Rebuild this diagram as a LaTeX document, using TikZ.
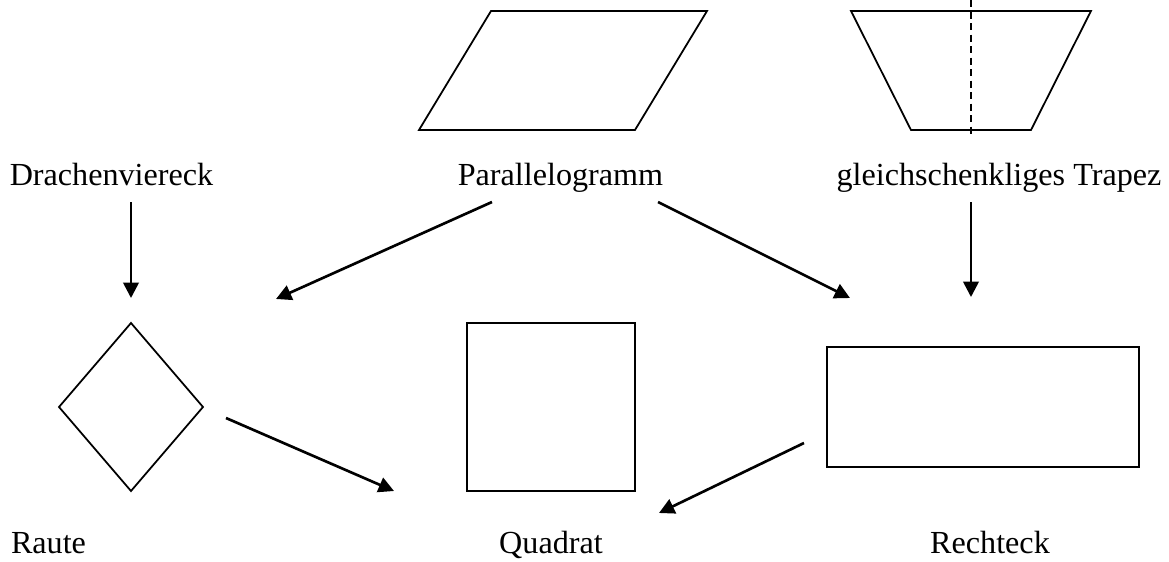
\documentclass[tikz,border=0pt]{standalone}
\usepackage{fontspec}
\setmainfont{Liberation Serif}
\usetikzlibrary{arrows.meta}
\begin{document}
\begin{tikzpicture}[x=0.339pt, y=-0.339pt, every node/.style={font=\fontsize{10.9pt}{13pt}\selectfont, inner sep=0pt, anchor=base},
  fig/.style={draw, line width=0.6pt, line join=miter},
  arr/.style={-{Triangle[length=5.2pt,width=5.2pt]}, line width=0.9pt}]
  \useasboundingbox (0,0) rectangle (1169,562);
  % labels
  \node (drachen) at (111.5,185) {Drachenviereck};
  \node (para) at (560.5,185) {Parallelogramm};
  \node (trapez) at (999,185) {gleichschenkliges Trapez};
  \node (raute) at (48.5,553) {Raute};
  \node (quadrat) at (551,553) {Quadrat};
  \node (rechteck) at (990,553) {Rechteck};
  % figures
  \draw[fig] (419,130) -- (635,130) -- (707,11) -- (491,11) -- cycle;
  \draw[fig] (851,11) -- (1091,11) -- (1031,130) -- (911,130) -- cycle;
  \draw[fig, dash pattern=on 2.4pt off 1.5pt] (971,0) -- (971,134);
  \draw[fig] (131,323) -- (203,407) -- (131,491) -- (59,407) -- cycle;
  \draw[fig] (467,323) rectangle (635,491);
  \draw[fig] (827,347) rectangle (1139,467);
  % arrow ends
  \coordinate (d1) at (131,202); \coordinate (d2) at (131,298);
  \coordinate (p1) at (492,202); \coordinate (p2) at (276,299);
  \coordinate (p3) at (658,202); \coordinate (p4) at (850,298);
  \coordinate (t1) at (971,202); \coordinate (t2) at (971,297);
  \coordinate (r1) at (226,418); \coordinate (r2) at (394,491);
  \coordinate (e1) at (804,443); \coordinate (e2) at (659,513);
  \draw[arr] (d1) -- (d2);
  \draw[arr] (p1) -- (p2);
  \draw[arr] (p3) -- (p4);
  \draw[arr] (t1) -- (t2);
  \draw[arr] (r1) -- (r2);
  \draw[arr] (e1) -- (e2);
\end{tikzpicture}
\end{document}
